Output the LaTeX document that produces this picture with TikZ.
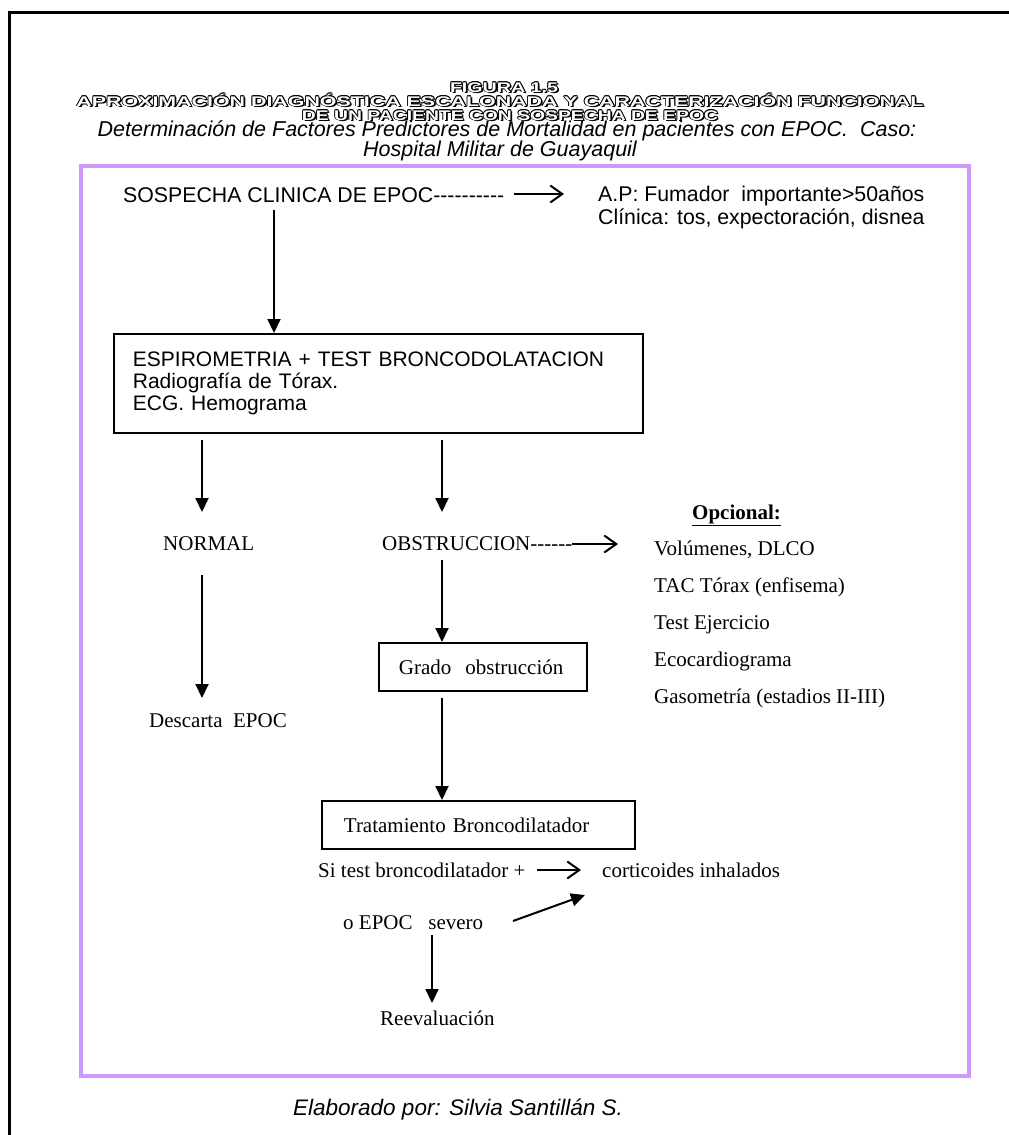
\documentclass[tikz,border=0pt]{standalone}
\usepackage{fontspec}
\usepackage{graphicx}
\setmainfont{Liberation Serif}
\setsansfont{Liberation Sans}
\usetikzlibrary{arrows.meta}
\definecolor{lila}{RGB}{207,153,250}
\newcommand{\ttlfnt}{\sffamily\bfseries\fontsize{14}{14}\selectfont}
\newcommand{\ttlF}{\resizebox{108pt}{\height}{\ttlfnt FIGURA 1.5}}
\newcommand{\ttlA}{\resizebox{847pt}{\height}{\ttlfnt APROXIMACIÓN DIAGNÓSTICA ESCALONADA Y CARACTERIZACIÓN FUNCIONAL}}
\newcommand{\ttlB}{\resizebox{416pt}{\height}{\ttlfnt DE UN PACIENTE CON SOSPECHA DE EPOC}}
% outlined text with a drop shadow, built in one box
\newcommand{\shd}[1]{%
  \rlap{\kern1.7pt\raisebox{-1.7pt}{#1}}%
  \rlap{\kern-0.8pt#1}\rlap{\kern0.8pt#1}%
  \rlap{\raisebox{0.8pt}{#1}}\rlap{\raisebox{-0.8pt}{#1}}%
  \rlap{\kern0.6pt\raisebox{0.6pt}{#1}}\rlap{\kern-0.6pt\raisebox{-0.6pt}{#1}}%
  \rlap{\kern0.6pt\raisebox{-0.6pt}{#1}}\rlap{\kern-0.6pt\raisebox{0.6pt}{#1}}%
  \textcolor{white}{#1}}
\tikzset{
  ttl/.style={inner sep=0pt, anchor=base},
  ariatxt/.style={font=\sffamily\fontsize{21.3}{22}\selectfont, inner sep=0pt, anchor=base west},
  ariaital/.style={font=\sffamily\itshape\fontsize{21.5}{22}\selectfont, inner sep=0pt, anchor=base},
  timestxt/.style={font=\rmfamily\fontsize{21}{22}\selectfont, inner sep=0pt, anchor=base west},
  flow/.style={line width=2pt, -{Triangle[length=14pt,width=13pt]}},
  barb/.style={line width=2pt, -{Straight Barb[length=12pt,width=17pt,line width=2pt]}},
  boxline/.style={draw, line width=1.8pt, anchor=north west, align=left}
}
\begin{document}
\begin{tikzpicture}[x=1pt,y=-1pt]
\useasboundingbox (0,0) rectangle (1009,1135);
% page frame
\draw[line width=3pt] (9,1135) -- (9,12) -- (1009,12);
% title
\node[ttl] (tf) at (504,92) {\shd{\ttlF}};
\node[ttl] (ta) at (500,106) {\shd{\ttlA}};
\node[ttl] (tb) at (510,120) {\shd{\ttlB}};
\node[ariaital] (sub1) at (507,136) {Determinación de Factores Predictores de Mortalidad en pacientes con EPOC.\ \ Caso:};
\node[ariaital] (sub2) at (500,156) {Hospital Militar de Guayaquil};
% purple frame
\draw[lila, line width=4.5pt] (81,166) rectangle (969,1076);
% top
\node[ariatxt] (sosp) at (123,202) {SOSPECHA CLINICA DE EPOC-{}-{}-{}-{}-{}-{}-{}-{}-{}-};
\node[ariatxt] (ap) at (598,201) {A.P: Fumador\ \ importante>50años};
\node[ariatxt] (cli) at (598,224) {Clínica: tos, expectoración, disnea};
\coordinate (a0s) at (514,194);
\coordinate (a0e) at (564,194);
\draw[barb] (a0s) -- (a0e);
% box 1
\node[boxline, font=\sffamily\fontsize{21}{22}\selectfont, minimum width=529pt, minimum height=99pt, inner xsep=19pt, text width=491pt] (b1) at (113,333)
  {ESPIROMETRIA + TEST BRONCODOLATACION\\Radiografía de Tórax.\\ECG. Hemograma};
\coordinate (a1s) at (274,210);
\draw[flow] (a1s) -- (a1s |- b1.north);
% branches
\coordinate (l1s) at (202,440);
\coordinate (l1e) at (202,512);
\coordinate (m1s) at (442,440);
\coordinate (m1e) at (442,512);
\draw[flow] (l1s) -- (l1e);
\draw[flow] (m1s) -- (m1e);
\node[timestxt] (normal) at (163,550) {NORMAL};
\node[timestxt] (obst) at (382,550) {OBSTRUCCION-{}-{}-{}-{}-{}-};
\coordinate (o1s) at (572,544);
\coordinate (o1e) at (618,544);
\draw[barb] (o1s) -- (o1e);
% optional list
\node[timestxt, font=\rmfamily\bfseries\fontsize{21}{22}\selectfont] (opc) at (692,519) {\underline{Opcional:}};
\node[timestxt] (op1) at (654,555) {Volúmenes, DLCO};
\node[timestxt] (op2) at (654,592) {TAC Tórax (enfisema)};
\node[timestxt] (op3) at (654,629) {Test Ejercicio};
\node[timestxt] (op4) at (654,666) {Ecocardiograma};
\node[timestxt] (op5) at (654,703) {Gasometría (estadios II-III)};
% left column
\coordinate (l2s) at (202,575);
\coordinate (l2e) at (202,698);
\draw[flow] (l2s) -- (l2e);
\node[timestxt] (desc) at (149,727) {Descarta\ \ EPOC};
% grado
\coordinate (m2s) at (442,560);
\node[boxline, font=\rmfamily\fontsize{21}{22}\selectfont, minimum width=208pt, minimum height=48pt, inner xsep=20pt, text width=168pt] (grado) at (378,642) {Grado\ \ obstrucción};
\draw[flow] (m2s) -- (m2s |- grado.north);
% tratamiento
\node[boxline, font=\rmfamily\fontsize{21}{22}\selectfont, minimum width=313pt, minimum height=48pt, inner xsep=22pt, text width=269pt] (trat) at (321,800) {Tratamiento Broncodilatador};
\coordinate (m3s) at (442,698);
\draw[flow] (m3s) -- (m3s |- trat.north);
\node[timestxt] (si) at (318,877) {Si test broncodilatador +};
\coordinate (a2s) at (537,870);
\coordinate (a2e) at (581,870);
\draw[barb] (a2s) -- (a2e);
\node[timestxt] (cort) at (602,877) {corticoides inhalados};
\node[timestxt] (sev) at (343,929) {o EPOC\ \ \ severo};
\coordinate (d1s) at (513,921);
\coordinate (d1e) at (585,895);
\draw[flow] (d1s) -- (d1e);
\coordinate (r1s) at (432,935);
\coordinate (r1e) at (432,1003);
\draw[flow] (r1s) -- (r1e);
\node[timestxt] (reev) at (380,1025) {Reevaluación};
% footer
\node[ariaital, anchor=base west, font=\sffamily\itshape\fontsize{22.5}{24}\selectfont] (elab) at (293,1115) {Elaborado por: Silvia Santillán S.};
\end{tikzpicture}
\end{document}
